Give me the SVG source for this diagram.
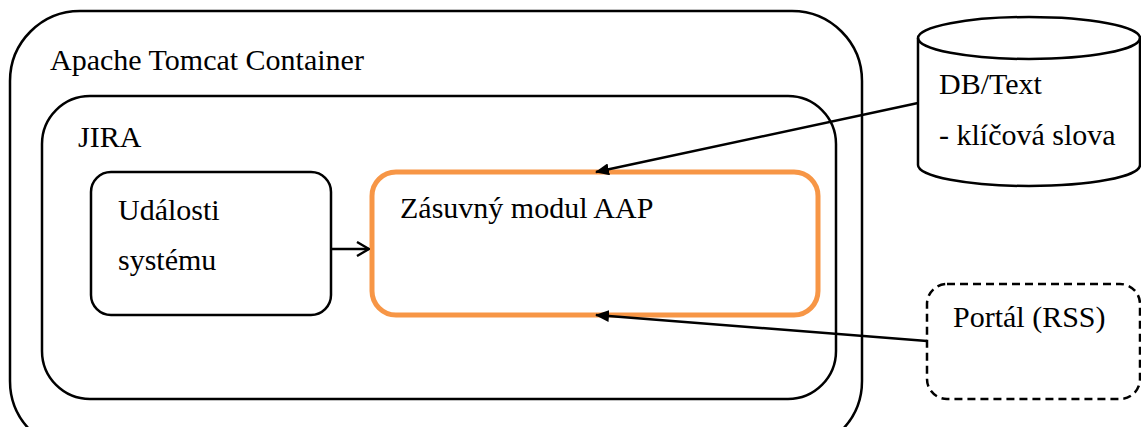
<svg xmlns="http://www.w3.org/2000/svg" width="1141" height="427" viewBox="0 0 1141 427">
<style>
text{font-family:"Liberation Serif","DejaVu Serif",serif;font-size:30px;fill:#000}
.box{fill:none;stroke:#000;stroke-width:2.5}
.edge{fill:none;stroke:#000;stroke-width:2.5}
</style>
<defs>
<marker id="filled" viewBox="0 0 14 12" refX="13" refY="6" markerWidth="14" markerHeight="12" markerUnits="userSpaceOnUse" orient="auto"><path d="M0,0 L14,6 L0,12 Z" fill="#000"/></marker>
<marker id="open" viewBox="0 0 14 16" refX="13" refY="8" markerWidth="14" markerHeight="16" markerUnits="userSpaceOnUse" orient="auto"><path d="M1,1 L13,8 L1,15" fill="none" stroke="#000" stroke-width="2.4"/></marker>
</defs>
<rect width="1141" height="427" fill="#fff"/>
<g id="tomcat">
<rect class="box" x="10" y="11" width="852" height="440" rx="70" ry="70"/>
<text x="50" y="70">Apache Tomcat Container</text>
</g>
<g id="jira">
<rect class="box" x="42" y="96" width="794" height="303" rx="48" ry="48"/>
<text x="78" y="147">JIRA</text>
</g>
<g id="udalosti">
<rect class="box" x="91" y="172" width="240" height="143" rx="20" ry="20"/>
<text x="118" y="220">Události</text>
<text x="118" y="270">systému</text>
</g>
<g id="modul">
<rect x="372" y="172" width="446" height="143" rx="24" ry="24" fill="none" stroke="#f79646" stroke-width="5"/>
<text x="400" y="218">Zásuvný modul AAP</text>
</g>
<g id="db">
<path class="box" d="M918,38 L918,165 A111,21 0 0 0 1140,165 L1140,38"/>
<ellipse class="box" cx="1029" cy="38" rx="111" ry="21"/>
<text x="939" y="94">DB/Text</text>
<text x="939" y="145">- klíčová slova</text>
</g>
<g id="portal">
<rect class="box" x="927" y="284" width="213" height="115" rx="20" ry="20" stroke-dasharray="8,5"/>
<text x="953" y="327">Portál (RSS)</text>
</g>
<g id="connectors">
<line class="edge" x1="331" y1="249" x2="369" y2="249" marker-end="url(#open)"/>
<line class="edge" x1="918" y1="103" x2="596" y2="172" marker-end="url(#filled)"/>
<line class="edge" x1="927" y1="341" x2="596" y2="315" marker-end="url(#filled)"/>
</g>
</svg>
